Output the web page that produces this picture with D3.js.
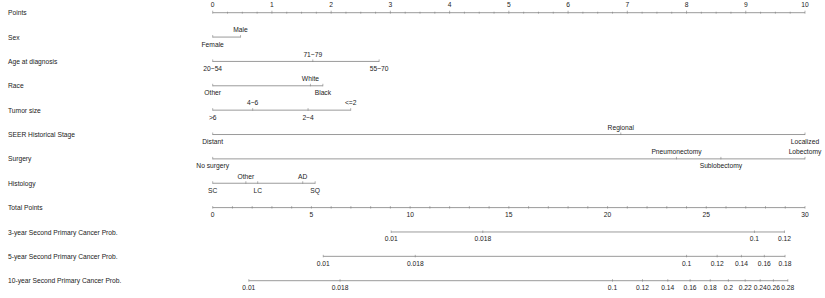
<!DOCTYPE html>
<html>
<head>
<meta charset="utf-8">
<script src="https://cdn.jsdelivr.net/npm/d3@7"></script>
<style>
  body { margin: 0; background: #fff; }
  text { font-family: "Liberation Sans", Arial, sans-serif; font-size: 6.7px; fill: #222; }
</style>
</head>
<body>
<div id="chart"></div>
<script>
// rows of the nomogram, top to bottom
const rowNames = ["Points", "Sex", "Age at diagnosis", "Race", "Tumor size", "SEER Historical Stage",
  "Surgery", "Histology", "Total Points", "3-year Second Primary Cancer Prob.",
  "5-year Second Primary Cancer Prob.", "10-year Second Primary Cancer Prob."];

// predictor levels and their points (0-10)
const sexLevels = ["Female", "Male"];
const sexPoints = [0, 0.47];
const ageLevels = ["20~54", "71~79", "55~70"];
const agePoints = [0, 1.69, 2.81];
const raceLevels = ["Other", "White", "Black"];
const racePoints = [0, 1.65, 1.86];
const tumorLevels = [">6", "4~6", "2~4", "<=2"];
const tumorPoints = [0, 0.675, 1.61, 2.33];
const stageLevels = ["Distant", "Regional", "Localized"];
const stagePoints = [0, 6.89, 10];
const surgeryLevels = ["No surgery", "Pneumonectomy", "Sublobectomy", "Lobectomy"];
const surgeryPoints = [0, 7.83, 8.58, 10];
const histLevels = ["SC", "Other", "LC", "AD", "SQ"];
const histPoints = [0, 0.56, 0.76, 1.52, 1.73];

// probability ticks and where they sit on the total points axis
const prob3Labels = ["0.01", "0.018", "0.1", "0.12"];
const prob3Total = [9.04, 13.68, 27.44, 28.96];
const prob5Labels = ["0.01", "0.018", "0.1", "0.12", "0.14", "0.16", "0.18"];
const prob5Total = [5.6, 10.26, 24.0, 25.55, 26.78, 27.94, 28.99];
const prob10Labels = ["0.01", "0.018", "0.1", "0.12", "0.14", "0.16", "0.18", "0.2", "0.22", "0.24", "0.26", "0.28"];
const prob10Total = [1.83, 6.45, 20.25, 21.77, 23.05, 24.18, 25.2, 26.12, 26.97, 27.73, 28.4, 29.13];

const width = 825, height = 298;
const svg = d3.select("#chart").append("svg")
  .attr("width", width).attr("height", height);

const x = d3.scaleLinear().domain([0, 10]).range([212.7, 805]);
const xTotal = d3.scaleLinear().domain([0, 30]).range([212.7, 805]);
const y = d3.scalePoint().domain(rowNames).range([12.7, 280.7]);

const lineColor = "#808080";

// row labels
svg.selectAll(".rowlabel")
  .data(rowNames)
  .enter().append("text")
  .attr("x", 8)
  .attr("y", d => y(d) + 0.8)
  .attr("dominant-baseline", "middle")
  .text(d => d);

// Points axis
const gPts = svg.append("g").attr("transform", `translate(0,${y("Points")})`);
gPts.append("line").attr("x1", x(0)).attr("x2", x(10)).attr("stroke", lineColor).attr("stroke-width", 0.8);
gPts.selectAll(".minor").data(d3.range(0, 10.001, 0.25)).enter().append("line")
  .attr("x1", d => x(d)).attr("x2", d => x(d))
  .attr("y1", d => Number.isInteger(d) ? -2 : -1).attr("y2", 1)
  .attr("stroke", lineColor).attr("stroke-width", 0.6);
gPts.selectAll(".lab").data(d3.range(0, 11)).enter().append("text")
  .attr("x", d => x(d)).attr("y", -7.5)
  .attr("text-anchor", "middle").attr("dominant-baseline", "middle")
  .text(d => d);

// predictor rows
const predictors = [
  ["Sex", sexLevels, sexPoints],
  ["Age at diagnosis", ageLevels, agePoints],
  ["Race", raceLevels, racePoints],
  ["Tumor size", tumorLevels, tumorPoints],
  ["SEER Historical Stage", stageLevels, stagePoints],
  ["Surgery", surgeryLevels, surgeryPoints],
  ["Histology", histLevels, histPoints]
];

predictors.forEach(([name, levels, pts]) => {
  const g = svg.append("g").attr("transform", `translate(0,${y(name)})`);
  g.append("line").attr("x1", x(d3.min(pts))).attr("x2", x(d3.max(pts)))
    .attr("stroke", lineColor).attr("stroke-width", 0.8);
  const items = levels.map((l, i) => ({ label: l, p: pts[i], i: i }));
  g.selectAll(".tick").data(items).enter().append("line")
    .attr("x1", d => x(d.p)).attr("x2", d => x(d.p))
    .attr("y1", -2).attr("y2", 0.5)
    .attr("stroke", lineColor).attr("stroke-width", 0.6);
  // labels alternate below / above
  g.selectAll(".lab").data(items).enter().append("text")
    .attr("x", d => x(d.p))
    .attr("y", d => d.i % 2 === 0 ? 7.8 : -6.5)
    .attr("text-anchor", "middle").attr("dominant-baseline", "middle")
    .text(d => d.label);
});

// Total points axis
const gTot = svg.append("g").attr("transform", `translate(0,${y("Total Points")})`);
gTot.append("line").attr("x1", xTotal(0)).attr("x2", xTotal(30)).attr("stroke", lineColor).attr("stroke-width", 0.8);
gTot.selectAll(".minor").data(d3.range(0, 31)).enter().append("line")
  .attr("x1", d => xTotal(d)).attr("x2", d => xTotal(d))
  .attr("y1", -1.5).attr("y2", 1)
  .attr("stroke", lineColor).attr("stroke-width", 0.6);
gTot.selectAll(".lab").data(d3.range(0, 31, 5)).enter().append("text")
  .attr("x", d => xTotal(d)).attr("y", 7.5)
  .attr("text-anchor", "middle").attr("dominant-baseline", "middle")
  .text(d => d);

// probability axes
const probAxes = [
  ["3-year Second Primary Cancer Prob.", prob3Labels, prob3Total],
  ["5-year Second Primary Cancer Prob.", prob5Labels, prob5Total],
  ["10-year Second Primary Cancer Prob.", prob10Labels, prob10Total]
];
probAxes.forEach(([name, labels, tot]) => {
  const g = svg.append("g").attr("transform", `translate(0,${y(name)})`);
  g.append("line").attr("x1", xTotal(d3.min(tot))).attr("x2", xTotal(d3.max(tot)))
    .attr("stroke", lineColor).attr("stroke-width", 0.8);
  const items = labels.map((l, i) => ({ label: l, t: tot[i] }));
  g.selectAll(".tick").data(items).enter().append("line")
    .attr("x1", d => xTotal(d.t)).attr("x2", d => xTotal(d.t))
    .attr("y1", -1.5).attr("y2", 1)
    .attr("stroke", lineColor).attr("stroke-width", 0.6);
  g.selectAll(".lab").data(items).enter().append("text")
    .attr("x", d => xTotal(d.t)).attr("y", 7.5)
    .attr("text-anchor", "middle").attr("dominant-baseline", "middle")
    .text(d => d.label);
});
</script>
</body>
</html>
